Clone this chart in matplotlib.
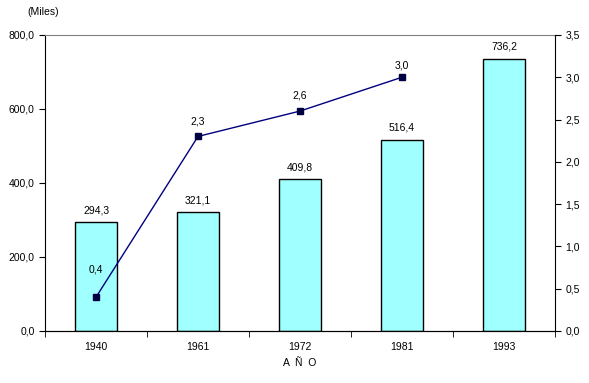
import numpy as np
import matplotlib.pyplot as plt
from matplotlib.ticker import FuncFormatter, FixedLocator

plt.rcParams['font.family'] = ['Liberation Sans', 'DejaVu Sans']
plt.rcParams['font.size'] = 7.5

years = ["1940", "1961", "1972", "1981", "1993"]
poblacion = [294.3, 321.1, 409.8, 516.4, 736.2]
tasa_years = ["1940", "1961", "1972", "1981"]
tasa = [0.4, 2.3, 2.6, 3.0]


def coma(v, pos=None):
    return f"{v:.1f}".replace(".", ",")


fig = plt.figure(figsize=(5.89, 3.83), dpi=100)
ax = fig.add_axes([0.0764, 0.1358, 0.866, 0.773])

x = np.arange(len(years))
ax.bar(x, poblacion, width=0.41, color="#A0FFFF", edgecolor="black", linewidth=1, zorder=2)
for xi, v in zip(x, poblacion):
    ax.annotate(coma(v), (xi, v), xytext=(0, 5), textcoords="offset points",
                ha="center", va="bottom")

ax.set_xlim(-0.5, len(years) - 0.5)
ax.set_ylim(0, 800)
ax.set_yticks(np.arange(0, 801, 200))
ax.yaxis.set_major_formatter(FuncFormatter(coma))
ax.set_xticks(x)
ax.set_xticklabels(years)
ax.xaxis.set_minor_locator(FixedLocator(np.arange(-0.5, len(years), 1)))
ax.tick_params(axis="x", which="major", length=0, pad=8)
ax.tick_params(axis="x", which="minor", length=4, direction="out")
ax.tick_params(axis="y", length=4, direction="out")
ax.spines["top"].set_color("#808080")
ax.spines["right"].set_visible(False)
ax.set_xlabel("A  Ñ  O", labelpad=4)

ax2 = ax.twinx()
ax2.set_ylim(0, 3.5)
ax2.set_yticks(np.arange(0, 3.51, 0.5))
ax2.yaxis.set_major_formatter(FuncFormatter(coma))
ax2.tick_params(axis="y", length=4, direction="out")
ax2.spines["top"].set_visible(False)
ax2.spines["left"].set_visible(False)
xt = [years.index(y) for y in tasa_years]
ax2.plot(xt, tasa, color="#000080", linewidth=1, marker="s", markersize=4.5,
         markerfacecolor="#000040", markeredgecolor="#000040")
offsets = [16, 7, 7.5, 5]
for xi, v, off in zip(xt, tasa, offsets):
    ax2.annotate(coma(v), (xi, v), xytext=(0, off), textcoords="offset points",
                 ha="center", va="bottom")

fig.text(0.046, 0.968, "(Miles)", ha="left", va="center")

fig.savefig("out.png", dpi=100)
